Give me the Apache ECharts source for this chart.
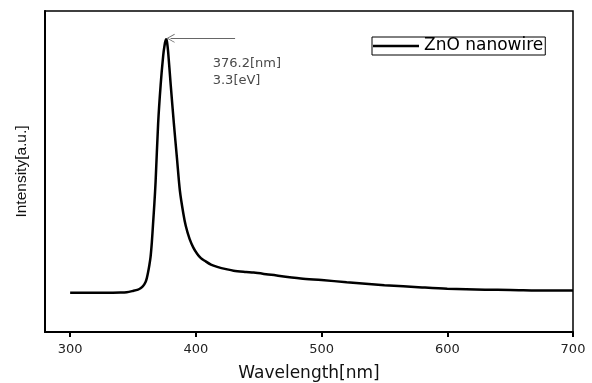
<!DOCTYPE html>
<html>
<head>
<meta charset="utf-8">
<script src="https://cdn.jsdelivr.net/npm/echarts@6/dist/echarts.min.js"></script>
<style>html,body{margin:0;padding:0;background:#fff;}#c{width:592px;height:383px;}</style>
</head>
<body>
<div id="c"></div>
<script>
const wavelength = [300,320,340,345,350,354,356,358,360,361,362,363,364,365,366,367,368,370,372,374,375,376.2,377,378,380,382.5,385,387.3,390,392,395,398,401,404,407,412,417,425,430,440,446,460,483.5,500,520,550,580,600,630,650,680,700];
const intensity  = [12.2,12.2,12.3,12.4,12.8,13.2,13.6,14.3,15.6,16.8,18.6,20.8,23.5,28,34,40,47,65,77,86,89,91.2,90.5,87,77,65,54,44,37,33,29,26.3,24.4,23,22.2,21,20.3,19.5,19.1,18.7,18.5,17.8,16.7,16.2,15.5,14.6,13.9,13.5,13.2,13.1,12.9,12.9];
const xTicks = [300,400,500,600,700];
const seriesName = 'ZnO nanowire';
const peakNm = 376.2, peakEv = 3.3;

const chart = echarts.init(document.getElementById('c'), null, {renderer:'canvas'});
const data = wavelength.map((w,i)=>[w, intensity[i]]);
chart.setOption({
  animation:false,
  backgroundColor:'#fff',
  grid:{left:45, top:11, right:19, bottom:51, show:true, borderColor:'#000', borderWidth:1.5,
        containLabel:false, outerBoundsMode:'none'},
  legend:{
    left:372, top:37, padding:[0,2,0,1],
    borderColor:'#000', borderWidth:1, backgroundColor:'#fff',
    itemWidth:46, itemHeight:2.5, itemGap:0,
    itemStyle:{borderWidth:0},
    textStyle:{fontFamily:'DejaVu Sans', fontSize:17, lineHeight:18, color:'#000'},
    data:[{name:seriesName, icon:'rect'}]
  },
  xAxis:{
    type:'value', min:280, max:700,
    name:'Wavelength[nm]', nameLocation:'middle', nameGap:33,
    nameTextStyle:{fontFamily:'DejaVu Sans', fontSize:17, color:'#111'},
    axisLine:{lineStyle:{color:'#000', width:2}},
    axisTick:{show:true, inside:false, length:5, lineStyle:{color:'#000', width:2}, customValues:xTicks},
    axisLabel:{margin:11, fontFamily:'DejaVu Sans', fontSize:13, color:'#222', customValues:xTicks},
    splitLine:{show:false}
  },
  yAxis:{
    type:'value', min:0, max:100,
    name:'Intensity[a.u.]', nameLocation:'middle', nameGap:15,
    nameTextStyle:{fontFamily:'Liberation Sans', fontSize:15.5, color:'#111'},
    axisLine:{show:true, lineStyle:{color:'#000', width:2}},
    axisTick:{show:false}, axisLabel:{show:false}, splitLine:{show:false}
  },
  series:[{
    name:seriesName, type:'line', data:data,
    symbol:'none', smooth:0.3,
    lineStyle:{color:'#000', width:2.5},
    itemStyle:{color:'#000'},
    markLine:{
      silent:true, symbol:['none','path://M5,0 L10,10 L9,10 L5,2 L1,10 L0,10 Z'], symbolSize:[9,8],
      lineStyle:{color:'#666', width:1, type:'solid'},
      label:{show:false},
      data:[[{coord:[431.2, 91.5]},{coord:[379.9, 91.5]}]]
    },
    markPoint:{
      silent:true, symbol:'circle', symbolSize:0,
      label:{show:true, position:[0,0], align:'left', verticalAlign:'top',
        fontFamily:'DejaVu Sans', fontSize:13, lineHeight:17, color:'#4a4a4a',
        formatter: peakNm.toFixed(1)+'[nm]\n'+peakEv.toFixed(1)+'[eV]'},
      data:[{coord:[413.4, 86.4]}]
    }
  }]
});
</script>
</body>
</html>
